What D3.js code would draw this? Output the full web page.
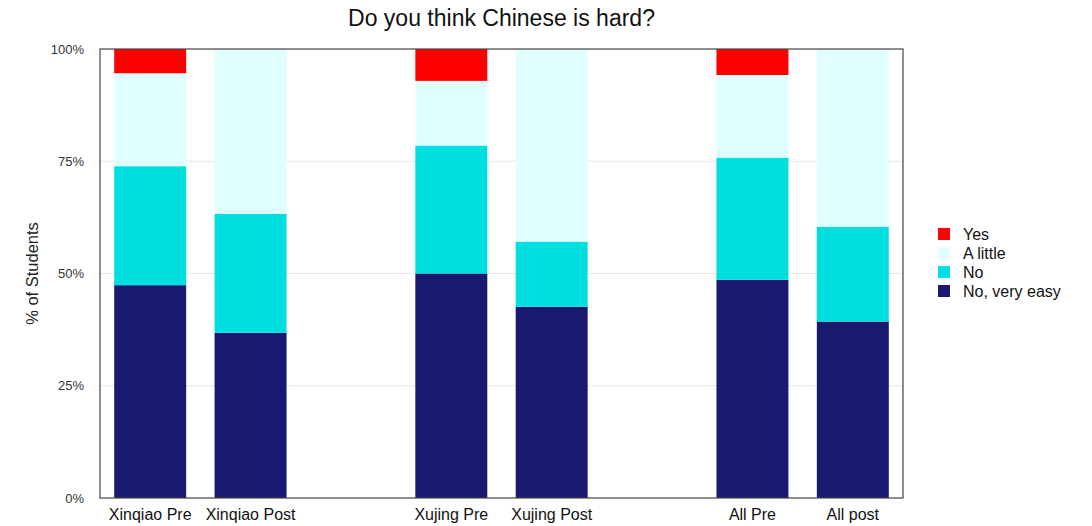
<!DOCTYPE html>
<html><head><meta charset="utf-8">
<script src="https://cdn.jsdelivr.net/npm/d3@7"></script>
<style>body{margin:0;background:#fff;font-family:"Liberation Sans",Arial,sans-serif}</style>
</head><body><svg id="c" width="1092" height="526"></svg>
<script>
const categories = ["Xinqiao Pre","Xinqiao Post","gap1","Xujing Pre","Xujing Post","gap2","All Pre","All post"];
const seriesNames = ["No, very easy","No","A little","Yes"];
const veryEasy = [47.4, 36.8, null, 50.0, 42.6, null, 48.6, 39.3];
const no       = [26.5, 26.5, null, 28.5, 14.5, null, 27.2, 21.1];
const aLittle  = [20.7, 36.7, null, 14.4, 42.9, null, 18.4, 39.6];
const yes      = [5.4, 0, null, 7.1, 0, null, 5.8, 0];
const colors = ["#191970","#00dfe0","#e0ffff","#ff0000"];
const yTicks = [0,25,50,75,100];

const svg = d3.select("#c");
const m = {l:100, r:189, t:49, b:28};
const W = 1092, H = 526;
const x = d3.scaleBand().domain(categories).range([m.l, W-m.r]).paddingInner(0.283).paddingOuter(0.1415);
const y = d3.scaleLinear().domain([0,100]).range([H-m.b, m.t]);

svg.append("text").attr("x",(m.l+W-m.r)/2).attr("y",26).attr("text-anchor","middle")
  .attr("font-size",23).attr("fill","#111").text("Do you think Chinese is hard?");

// gridlines
svg.append("g").selectAll("line").data(yTicks.filter(d=>d>0&&d<100)).join("line")
  .attr("x1",m.l).attr("x2",W-m.r).attr("y1",d=>y(d)).attr("y2",d=>y(d))
  .attr("stroke","#e6e6e6").attr("stroke-width",1);

const rows = categories.map((c,i)=>({cat:c,"No, very easy":veryEasy[i],"No":no[i],"A little":aLittle[i],"Yes":yes[i]}))
  .filter(r=>r["No, very easy"]!==null);
const stack = d3.stack().keys(seriesNames)(rows);
svg.append("g").selectAll("g").data(stack).join("g").attr("fill",(d,i)=>colors[i])
  .selectAll("rect").data(d=>d).join("rect")
  .attr("x",d=>x(d.data.cat)).attr("width",x.bandwidth())
  .attr("y",d=>y(d[1])).attr("height",d=>y(d[0])-y(d[1]));

// frame
svg.append("rect").attr("x",m.l).attr("y",m.t).attr("width",W-m.r-m.l).attr("height",H-m.b-m.t)
  .attr("fill","none").attr("stroke","#444").attr("stroke-width",1.2);

// y axis
const ya = svg.append("g").attr("transform",`translate(${m.l},0)`)
  .call(d3.axisLeft(y).tickValues(yTicks).tickFormat(d=>d+"%").tickSize(0).tickPadding(16));
ya.select(".domain").remove();
ya.selectAll("text").attr("font-size",13).attr("fill","#333").attr("font-family","Liberation Sans, Arial, sans-serif");

// x axis
const xa = svg.append("g").attr("transform",`translate(0,${H-m.b})`)
  .call(d3.axisBottom(x).tickSize(0).tickPadding(11).tickFormat(d=>d.startsWith("gap")?"":d));
xa.select(".domain").remove();
xa.selectAll("text").attr("font-size",16).attr("fill","#111").attr("font-family","Liberation Sans, Arial, sans-serif");

svg.append("text").attr("transform",`translate(38,${(m.t+H-m.b)/2}) rotate(-90)`).attr("text-anchor","middle")
  .attr("font-size",16.5).attr("fill","#222").text("% of Students");

// legend
const legOrder = ["Yes","A little","No","No, very easy"];
const lg = svg.append("g").attr("transform","translate(938,234)");
legOrder.forEach((n,i)=>{
  const g = lg.append("g").attr("transform",`translate(0,${i*19})`);
  g.append("rect").attr("x",0).attr("y",-6).attr("width",12).attr("height",12).attr("fill",colors[seriesNames.indexOf(n)]);
  g.append("text").attr("x",25).attr("y",6).attr("font-size",16).attr("fill","#111").text(n);
});
</script></body></html>
